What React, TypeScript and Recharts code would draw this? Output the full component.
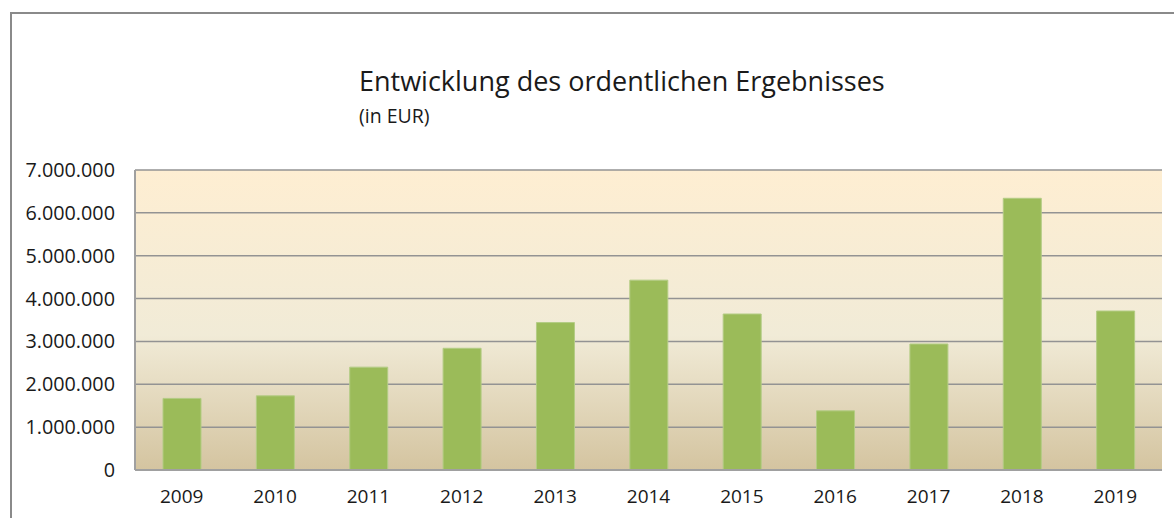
import React from "react";
import { BarChart, Bar, XAxis, YAxis, CartesianGrid } from "recharts";

const years = ["2009", "2010", "2011", "2012", "2013", "2014", "2015", "2016", "2017", "2018", "2019"];
const results = [1670000, 1730000, 2400000, 2840000, 3440000, 4430000, 3640000, 1380000, 2940000, 6340000, 3710000];
const yTicks = [0, 1000000, 2000000, 3000000, 4000000, 5000000, 6000000, 7000000];

const data = years.map((y, i) => ({ year: y, value: results[i] }));

const fmt = (v: number) => (v === 0 ? "0" : v.toLocaleString("de-DE"));
const FONT = "'Open Sans', Lato, sans-serif";

export default function App() {
  return (
    <div style={{ position: "absolute", left: 0, top: 0, width: 1174, height: 518, overflow: "hidden", background: "#fff", fontFamily: FONT }}>
      <div style={{ position: "absolute", left: 10, top: 12, width: 1300, height: 700, border: "2px solid #8a8a8a", boxSizing: "border-box" }} />
      <div style={{ position: "absolute", left: 359, top: 62, fontSize: 27, lineHeight: "normal", color: "#1a1a1a", whiteSpace: "nowrap" }}>
        Entwicklung des ordentlichen Ergebnisses
      </div>
      <div style={{ position: "absolute", left: 359, top: 102, fontSize: 19.5, lineHeight: "normal", color: "#1a1a1a", whiteSpace: "nowrap" }}>
        (in EUR)
      </div>
      <div style={{ position: "absolute", left: 0, top: 0 }}>
        <BarChart width={1174} height={518} data={data} margin={{ top: 170, right: 12, bottom: 18, left: 10 }}>
          <defs>
            <linearGradient id="bg" x1="0" y1="0" x2="0" y2="1">
              <stop offset="0%" stopColor="#FEEED2" />
              <stop offset="55%" stopColor="#F1EBD7" />
              <stop offset="100%" stopColor="#D4C4A0" />
            </linearGradient>
          </defs>
          <CartesianGrid vertical={false} fill="url(#bg)" fillOpacity={1} stroke="#939393" strokeWidth={1.5} />
          <XAxis
            dataKey="year"
            height={30}
            axisLine={{ stroke: "#a0a0a0", strokeWidth: 2 }}
            tickLine={false}
            tickSize={0}
            tickMargin={20}
            tick={{ fill: "#1a1a1a", fontSize: 19, fontFamily: FONT }}
            interval={0}
          />
          <YAxis
            width={125}
            domain={[0, 7000000]}
            ticks={yTicks}
            tickFormatter={fmt}
            axisLine={{ stroke: "#a0a0a0", strokeWidth: 2 }}
            tickLine={false}
            tickSize={0}
            tickMargin={20}
            tick={{ fill: "#1a1a1a", fontSize: 19.8, fontFamily: FONT }}
            interval={0}
          />
          <Bar dataKey="value" fill="#9BBB59" stroke="#B3CC84" strokeWidth={1} barSize={38} isAnimationActive={false} />
        </BarChart>
      </div>
    </div>
  );
}
